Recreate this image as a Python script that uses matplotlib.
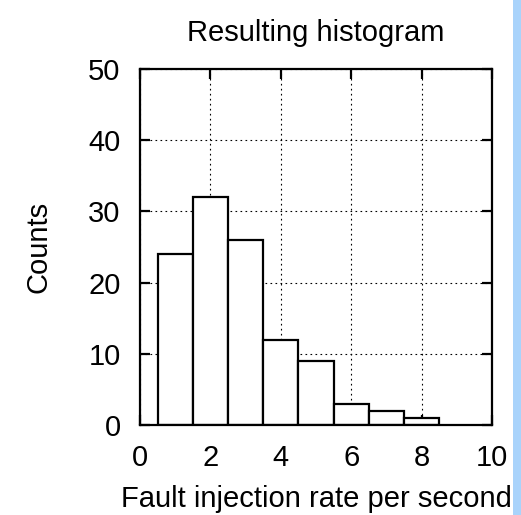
import matplotlib
matplotlib.use("Agg")
import matplotlib.pyplot as plt
from matplotlib.patches import Rectangle

plt.rcParams['font.family'] = ['Liberation Sans', 'DejaVu Sans']

bin_centers = [1, 2, 3, 4, 5, 6, 7, 8]
counts = [24, 32, 26, 12, 9, 3, 2, 1]
xticks = [0, 2, 4, 6, 8, 10]
yticks = [0, 10, 20, 30, 40, 50]

fig = plt.figure(figsize=(5.21, 5.15), dpi=100)
# light blue strip at right edge
fig.patches.append(Rectangle((513/521, 0), 8/521, 1, transform=fig.transFigure,
                             facecolor='#a9d3fb', edgecolor='none', zorder=0))
ax = fig.add_axes([140/521, 1 - 425/515, 352/521, 356/515])

ax.bar(bin_centers, counts, width=1.0, facecolor='white', edgecolor='black',
       linewidth=1.6, zorder=3)

ax.set_xlim(0, 10)
ax.set_ylim(0, 50)
ax.set_xticks(xticks)
ax.set_yticks(yticks)
ax.grid(True, linestyle=(0, (1.5, 3)), color='black', linewidth=0.8, zorder=1)
ax.set_axisbelow(True)

ax.tick_params(direction='in', length=7, width=1.6, top=True, right=True,
               labelsize=21, pad=14)
for s in ax.spines.values():
    s.set_linewidth(1.6)
    s.set_zorder(5)

ax.set_title('Resulting histogram', fontsize=21, pad=20)
ax.set_xlabel('Fault injection rate per second', fontsize=21, labelpad=9)
ax.set_ylabel('Counts', fontsize=21, labelpad=26)

fig.savefig('out.png', dpi=100)
